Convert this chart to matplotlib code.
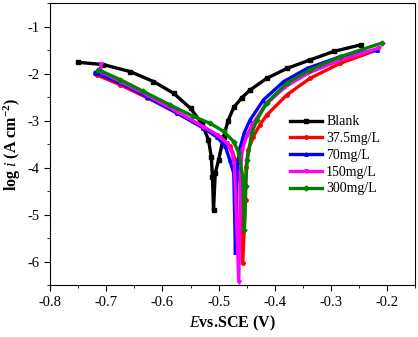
import numpy as np
import matplotlib
matplotlib.use("Agg")
import matplotlib.pyplot as plt
from matplotlib.ticker import MultipleLocator

plt.rcParams['font.family'] = ['Liberation Serif', 'DejaVu Serif']
plt.rcParams['axes.unicode_minus'] = False
plt.rcParams['mathtext.fontset'] = 'custom'
plt.rcParams['mathtext.rm'] = 'Liberation Serif'
plt.rcParams['mathtext.it'] = 'Liberation Serif:italic'
plt.rcParams['mathtext.bf'] = 'Liberation Serif:bold'

labels = ["Blank", "37.5mg/L", "70mg/L", "150mg/L", "300mg/L"]
colors = ["black", "red", "blue", "magenta", "green"]
markers = ["s", "o", "^", "v", "D"]

# potential (V vs SCE) and log i
# cathodic branch down to the corrosion potential, then the anodic branch back up
E_blank = [-0.751, -0.705, -0.657, -0.616, -0.580, -0.550, -0.530, -0.518, -0.513, -0.511, -0.509,
           -0.506, -0.500, -0.491, -0.483, -0.473, -0.459, -0.444, -0.414, -0.378, -0.337, -0.295, -0.247]
logi_blank = [-1.76, -1.81, -1.96, -2.17, -2.42, -2.74, -3.06, -3.41, -3.77, -4.19, -4.91,
              -4.12, -3.84, -3.34, -3.00, -2.72, -2.52, -2.35, -2.10, -1.89, -1.71, -1.53, -1.39]

E_375 = [-0.717, -0.675, -0.628, -0.574, -0.527, -0.497, -0.479, -0.470, -0.460, -0.457,
         -0.452, -0.451, -0.447, -0.438, -0.427, -0.414, -0.378, -0.337, -0.283, -0.218]
logi_375 = [-2.03, -2.24, -2.51, -2.84, -3.15, -3.35, -3.55, -3.84, -4.40, -6.04,
            -4.69, -3.98, -3.62, -3.34, -3.10, -2.88, -2.45, -2.10, -1.78, -1.50]

E_70 = [-0.720, -0.675, -0.628, -0.574, -0.527, -0.503, -0.488, -0.480, -0.473, -0.470,
        -0.467, -0.461, -0.454, -0.444, -0.420, -0.384, -0.342, -0.283, -0.218]
logi_70 = [-1.98, -2.20, -2.49, -2.84, -3.16, -3.35, -3.55, -3.84, -4.12, -5.80,
           -3.98, -3.55, -3.25, -2.99, -2.56, -2.17, -1.89, -1.64, -1.50]

E_150 = [-0.710, -0.710, -0.675, -0.628, -0.574, -0.527, -0.503, -0.485, -0.476, -0.472, -0.464,
         -0.461, -0.458, -0.450, -0.440, -0.417, -0.381, -0.340, -0.283, -0.215]
logi_150 = [-1.79, -1.96, -2.17, -2.45, -2.81, -3.13, -3.30, -3.48, -3.69, -3.91, -6.43,
            -4.12, -3.62, -3.33, -3.09, -2.67, -2.28, -1.99, -1.71, -1.46]

E_300 = [-0.714, -0.675, -0.634, -0.586, -0.545, -0.515, -0.491, -0.473, -0.464, -0.457, -0.454,
         -0.452, -0.449, -0.441, -0.432, -0.414, -0.378, -0.337, -0.283, -0.209]
logi_300 = [-1.92, -2.13, -2.38, -2.67, -2.91, -3.06, -3.23, -3.45, -3.69, -4.19, -5.33,
            -4.40, -3.84, -3.27, -2.99, -2.62, -2.20, -1.92, -1.64, -1.35]

series = [(E_blank, logi_blank), (E_375, logi_375), (E_70, logi_70), (E_150, logi_150), (E_300, logi_300)]

fig = plt.figure(figsize=(4.18, 3.37), dpi=100)
ax = fig.add_axes([0.12, 0.154, 0.873, 0.837])

for (E, li), lab, c, m in zip(series, labels, colors, markers):
    ax.plot(E, li, color=c, marker=m, markersize=2.5, linewidth=2.4, label=lab)

ax.set_xlim(-0.8, -0.15)
ax.set_ylim(-6.5, -0.5)
ax.xaxis.set_major_locator(MultipleLocator(0.1))
ax.xaxis.set_minor_locator(MultipleLocator(0.05))
ax.yaxis.set_major_locator(MultipleLocator(1))
ax.yaxis.set_minor_locator(MultipleLocator(0.5))
ax.tick_params(which='both', direction='out', top=False, right=False, labelsize=10.5)
ax.tick_params(which='major', length=4)
ax.tick_params(which='minor', length=2.5)

ax.set_xlabel(r"$\mathbf{\mathit{E}}$vs.SCE (V)", fontsize=11.5, fontweight='bold', labelpad=4)
ax.set_ylabel(r"log $\mathbf{\mathit{i}}$ (A cm$^{\mathbf{-2}}$)", fontsize=11.5, fontweight='bold', labelpad=3)

leg = ax.legend(loc='upper left', bbox_to_anchor=(0.623, 0.646), frameon=False, fontsize=10,
                handlelength=2.3, handletextpad=0.3, labelspacing=0.27)

fig.savefig("out.png", dpi=100)
